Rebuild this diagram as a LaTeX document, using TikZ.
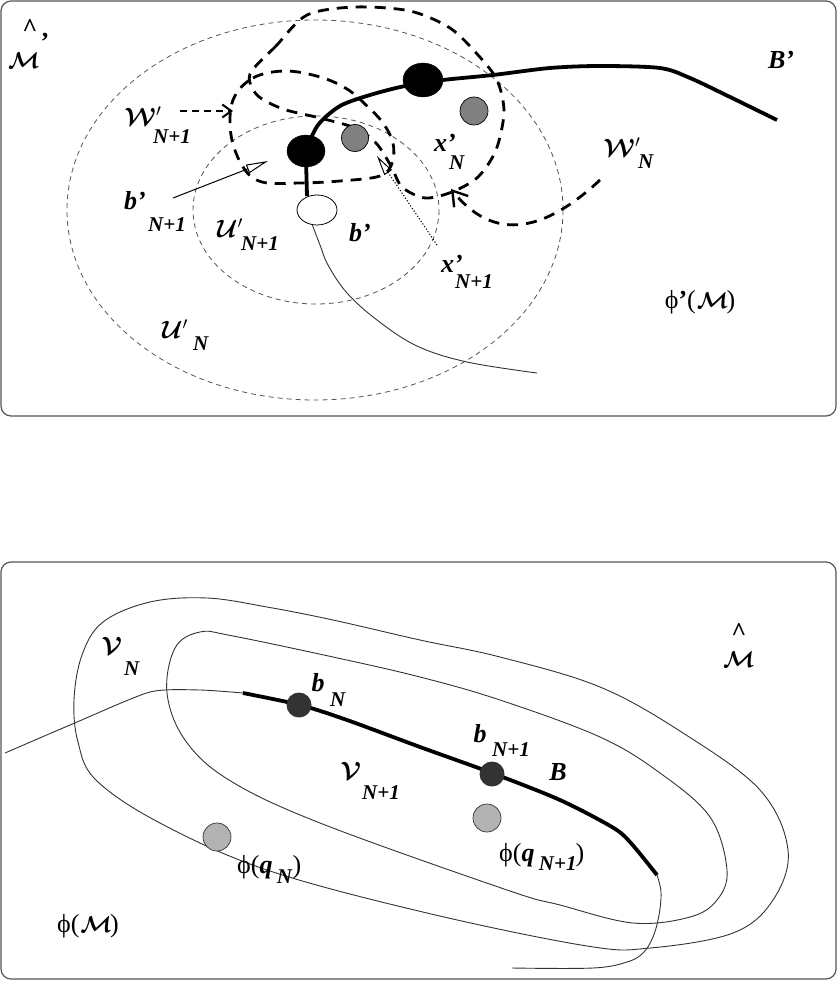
\documentclass[tikz,border=0pt]{standalone}
\usepackage{fix-cm}
\usepackage{bm}
\usepackage{fontspec}
\setmainfont{Liberation Serif}
\usetikzlibrary{arrows.meta,shapes.geometric}
\newcommand\bi[1]{\textbf{\textit{#1}}}
\newcommand\bigsz{\fontsize{26}{28}\selectfont}
\newcommand\subsz{\fontsize{21}{23}\selectfont}
\newcommand\scrsz{\fontsize{25}{27}\selectfont}
\newcommand\msz{\fontsize{23}{25}\selectfont}
\newcommand\scrl[1]{\ensuremath{\bm{\mathcal{#1}}}}
\definecolor{boxgray}{HTML}{555555}
\definecolor{dotgray}{HTML}{808080}
\definecolor{lightdot}{HTML}{B3B3B3}
\definecolor{darkdot}{HTML}{333333}
\begin{document}
\begin{tikzpicture}[x=1pt,y=-1pt,
  boxst/.style={draw=boxgray,line width=1.2pt,rounded corners=10pt},
  thinell/.style={draw=boxgray,line width=0.8pt,dash pattern=on 5pt off 4pt},
  wdash/.style={draw=black,line width=2.8pt,dash pattern=on 11pt off 8pt},
  thickcurve/.style={draw=black,line width=3.8pt},
  thincurve/.style={draw=black!80,line width=0.9pt},
  lab/.style={inner sep=0pt,font=\bigsz},
  sub/.style={inner sep=0pt,font=\subsz},
  scr/.style={inner sep=0pt,font=\scrsz},
]
\useasboundingbox (0,0) rectangle (838,981);
% frames
\draw[boxst] (1,1) rectangle (836,416);
\draw[boxst] (1,562) rectangle (836,979);

% ---------------- top panel ----------------
\draw[thinell] (315,210) ellipse [x radius=248, y radius=190];
\draw[thinell] (316,210) ellipse [x radius=123, y radius=94];

% W'_{N+1}
\draw[wdash] plot[smooth cycle, tension=0.6] coordinates {
 (233,100) (253,78) (285,71) (320,77) (347,89) (367,106) (383,123) (393,143)
 (392,163) (380,176) (340,181) (300,183) (262,182) (243,167) (231,135)};
% W'_N
\draw[wdash] plot[smooth cycle, tension=0.5] coordinates {
 (307,15) (276,46) (250,74) (257,95) (283,109) (320,118) (355,128) (376,143)
 (391,166) (402,187) (425,198) (452,192) (478,177) (496,150) (504,112) (497,80)
 (478,55) (450,28) (410,11) (355,7)};

% B' curve
\draw[thickcurve] plot[smooth, tension=0.5] coordinates {
 (306,150) (318,125) (340,106) (370,95) (405,86) (443,80) (493,75) (550,68)
 (600,66) (660,68) (690,78) (730,97) (777,120)};
\draw[thickcurve] (307,196) -- (306,160);
% thin curve from b'
\draw[thincurve] plot[smooth, tension=0.6] coordinates {
 (312,224) (320,245) (328,265) (347,293) (377,320) (417,346) (467,362) (537,373)};

% dots
\node[draw=black,fill=black,ellipse,minimum width=38pt,minimum height=32pt,inner sep=0pt] (bA) at (306,151) {};
\node[draw=black,fill=black,ellipse,minimum width=40pt,minimum height=34pt,inner sep=0pt] (bB) at (423,80) {};
\node[draw=black,fill=dotgray,circle,minimum size=27pt,inner sep=0pt,line width=0.7pt] (xA) at (355,138) {};
\node[draw=black,fill=dotgray,circle,minimum size=28pt,inner sep=0pt,line width=0.7pt] (xB) at (474,111) {};
\node[draw=black,fill=white,ellipse,minimum width=40pt,minimum height=30pt,inner sep=0pt,line width=0.8pt] (bW) at (317,210) {};

% pointer arrows
\coordinate (cWa) at (180,111);
\coordinate (cWb) at (233,111);
\draw[line width=2.4pt,dash pattern=on 7pt off 5pt,-{Straight Barb[length=9pt,width=13pt,line width=2pt]}] (cWa) -- (cWb);
\coordinate (cNa) at (600,180);
\coordinate (cNb) at (451,189);
\draw[wdash,-{Straight Barb[length=14pt,width=18pt,line width=2.4pt]}] (cNa) .. controls (555,222) and (500,250) .. (cNb);
\coordinate (cba) at (173,198);
\coordinate (cbb) at (268,161);
\draw[line width=1pt,-{Triangle[open,length=22pt,width=9pt,line width=1pt]}] (cba) -- (cbb);
\coordinate (cxa) at (437,245);
\coordinate (cxb) at (377,156);
\draw[line width=1.1pt,dotted,-{Triangle[open,length=20pt,width=9pt,line width=1pt,sep=0pt]}] (cxa) -- (cxb);

% labels top
\node[lab,font=\bigsz\bfseries] (hatA) at (30,28) {\char`\^};
\node[inner sep=0pt,font=\msz] (mA) at (24,61) {\scrl{M}};
\node[lab] (mAp) at (45,42) {\textbf{'}};
\node[scr] (lW1) at (143,116) {\scrl{W}$'$};
\node[sub] (lW1s) at (172,137) {\bi{N+1}};
\node[lab] (lb1) at (135,201) {\bi{b'}};
\node[sub] (lb1s) at (167,225) {\bi{N+1}};
\node[scr] (lU1) at (230,228) {\scrl{U}$'$};
\node[sub] (lU1s) at (260,244) {\bi{N+1}};
\node[lab] (lb0) at (360,233) {\bi{b'}};
\node[lab] (lx1) at (452,264) {\bi{x'}};
\node[sub] (lx1s) at (474,282) {\bi{N+1}};
\node[scr] (lU0) at (175,329) {\scrl{U}$'$};
\node[sub] (lU0s) at (201,344) {\bi{N}};
\node[lab] (lx0) at (445,143) {\bi{x'}};
\node[sub] (lx0s) at (457,163) {\bi{N}};
\node[scr] (lW0) at (622,147) {\scrl{W}$'$};
\node[sub] (lW0s) at (646,162) {\bi{N}};
\node[lab] (lB1) at (781,60) {\bi{B'}};
\node[lab] (lphiA) at (700,302) {ϕ\textbf{'}(\kern1pt{\msz\scrl{M}}\kern-2pt)};

% ---------------- bottom panel ----------------
% V_N outer loop
\draw[thincurve] plot[smooth cycle, tension=0.6] coordinates {
 (74,700) (82,655) (103,622) (150,602) (207,598) (267,607) (333,620) (420,640)
 (500,657) (600,687) (683,733) (760,790) (788,850) (773,900) (733,933) (650,948)
 (587,946) (427,913) (267,870) (160,823) (96,780) (78,742)};
% V_{N+1} inner loop
\draw[thincurve] plot[smooth cycle, tension=0.6] coordinates {
 (167,693) (175,648) (200,632) (233,636) (333,657) (420,677) (500,700) (600,737)
 (660,773) (710,817) (727,870) (717,900) (690,917) (633,923) (560,905) (507,890)
 (320,823) (229,780) (185,740)};
% thin line into B
\draw[thincurve] plot[smooth, tension=0.4] coordinates {
 (5,753) (77,722) (150,692) (200,690) (243,693)};
% thick B
\draw[thickcurve] plot[smooth, tension=0.5] coordinates {
 (243,693) (300,705) (347,720) (420,747) (492,773) (560,800) (612,827) (630,842) (657,875)};
% tail
\draw[thincurve] plot[smooth, tension=0.6] coordinates {
 (657,875) (661,892) (659,915) (653,937) (643,953) (627,962) (593,968) (512,968)};

\node[fill=darkdot,circle,minimum size=25pt,inner sep=0pt] (bN) at (299,705) {};
\node[fill=darkdot,circle,minimum size=25pt,inner sep=0pt] (bN1) at (492,774) {};
\node[draw=black!80,fill=lightdot,circle,minimum size=28pt,inner sep=0pt,line width=0.7pt] (qN1) at (487,818) {};
\node[draw=black!80,fill=lightdot,circle,minimum size=28pt,inner sep=0pt,line width=0.7pt] (qN) at (217,837) {};

% labels bottom
\node[scr] (lV0) at (112,646) {\scrl{V}};
\node[sub] (lV0s) at (132,669) {\bi{N}};
\node[lab] (lbN) at (318,683) {\bi{b}};
\node[sub] (lbNs) at (338,700) {\bi{N}};
\node[scr] (lV1) at (351,771) {\scrl{V}};
\node[sub] (lV1s) at (381,793) {\bi{N+1}};
\node[lab] (lbN1) at (480,734) {\bi{b}};
\node[sub] (lbN1s) at (511,750) {\bi{N+1}};
\node[lab] (lB) at (558,772) {\bi{B}};
\node[lab,font=\bigsz\bfseries] (hatB) at (739,632) {\char`\^};
\node[inner sep=0pt,font=\msz] (mB) at (739,660) {\scrl{M}};
\node[lab,anchor=west] (lq1) at (499,857) {ϕ(\bi{q}\,\raisebox{-9pt}{\subsz\bi{N+1}}\kern-1pt)};
\node[lab,anchor=west] (lq0) at (237,869) {ϕ(\bi{q}\,\raisebox{-10pt}{\subsz\bi{N}})};
\node[lab] (lphiB) at (88,926) {ϕ(\kern1pt{\msz\scrl{M}}\kern-2pt)};
\end{tikzpicture}
\end{document}
